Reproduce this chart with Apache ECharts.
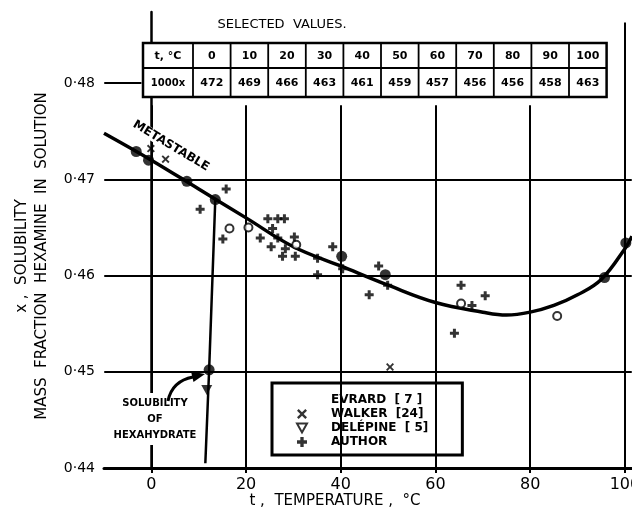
<!DOCTYPE html>
<html><head><meta charset="utf-8">
<script src="https://cdn.jsdelivr.net/npm/echarts@6/dist/echarts.min.js"></script>
<style>html,body{margin:0;padding:0;background:#fff}#c{width:632px;height:512px}</style>
</head><body><div id="c"></div>
<script>
// ---- data ----
const tableTemps = [0, 10, 20, 30, 40, 50, 60, 70, 80, 90, 100];
const tableValues = [472, 469, 466, 463, 461, 459, 457, 456, 456, 458, 463];

const curveT = [-10, 0, 10, 20, 30, 40, 50, 60, 70, 75, 80, 85, 90, 95, 100, 101.5];
const curveX = [0.4748, 0.472, 0.469, 0.466, 0.463, 0.461, 0.459, 0.4572, 0.4562, 0.4559, 0.4562, 0.4569, 0.458, 0.4596, 0.4628, 0.4641];

const hexaT = [13.5, 12.2, 11.4];
const hexaX = [0.4679, 0.4502, 0.4405];

const dotT = [-3.2, -0.6, 7.5, 13.5, 12.2, 40.2, 49.4, 95.7, 100.2];
const dotX = [0.4729, 0.4720, 0.4698, 0.4679, 0.4502, 0.4620, 0.4601, 0.4598, 0.4634];

const evrardT = [16.5, 20.5, 30.6, 65.4, 85.7];
const evrardX = [0.4649, 0.4650, 0.4632, 0.4571, 0.4558];

const walkerT = [-0.1, 3.0, 50.4];
const walkerX = [0.4732, 0.4721, 0.4505];

const delepineT = [11.7];
const delepineX = [0.4481];

const authorT = [10.3, 15.8, 15.1, 24.6, 26.7, 28.1, 25.6, 23.0, 26.7, 25.3, 28.3, 30.2, 27.7, 30.4, 35.1, 35.1, 38.3, 40.4, 48.0, 49.9, 46.0, 65.4, 67.7, 70.5, 64.0];
const authorX = [0.4669, 0.4690, 0.4638, 0.4659, 0.4659, 0.4659, 0.4649, 0.4639, 0.4639, 0.4630, 0.4628, 0.4640, 0.4620, 0.4620, 0.4618, 0.4601, 0.4630, 0.4607, 0.4610, 0.4590, 0.4580, 0.4590, 0.4569, 0.4579, 0.4540];

const xTickLabels = [0, 20, 40, 60, 80, 100];
const yTickLabels = [0.44, 0.45, 0.46, 0.47, 0.48];
const hGridValues = [0.45, 0.46, 0.47];

const legendNames = ['EVRARD  [ 7 ]', 'WALKER  [24]', 'DELÉPINE  [ 5]', 'AUTHOR'];

// ---- helpers ----
const zip = (a, b) => a.map((v, i) => [v, b[i]]);
const FONT = '"DejaVu Sans", "Liberation Sans", sans-serif';
const X_MIN = -10, X_MAX = 101.5, Y_MIN = 0.44, Y_MAX = 0.4874;

const CROSS = 'path://M1.5,0L4.5,3L7.5,0L9,1.5L6,4.5L9,7.5L7.5,9L4.5,6L1.5,9L0,7.5L3,4.5L0,1.5Z';
const PLUS = 'path://M3,0H6V3H9V6H6V9H3V6H0V3H3Z';
const DOWN_TRI = 'path://M0,0L10,0L5,9Z';

// gridlines as marker lines
const gridLines = [];
xTickLabels.forEach(t => {
  gridLines.push([{ coord: [t, Y_MIN] }, { coord: [t, t === 100 ? 0.4863 : 0.4777] }]);
});
hGridValues.forEach(v => {
  gridLines.push([{ coord: [X_MIN + 0.05, v] }, { coord: [X_MAX - 0.05, v] }]);
});
gridLines.push([{ coord: [X_MIN + 0.05, 0.48] }, { coord: [-2.1, 0.48] }]);

// table graphic
const tb = { left: 143, top: 43, mid: 68, bottom: 97, labelW: 50, cellW: 37.6 };
const tableW = tb.labelW + tableTemps.length * tb.cellW;
const TZ = 100;
const tableEls = [
  { type: 'rect', z: TZ, shape: { x: tb.left, y: tb.top, width: tableW, height: tb.bottom - tb.top },
    style: { fill: '#fff', stroke: '#000', lineWidth: 2.5 } },
  { type: 'line', z: TZ, shape: { x1: tb.left, y1: tb.mid, x2: tb.left + tableW, y2: tb.mid },
    style: { stroke: '#000', lineWidth: 1.8 } }
];
for (let i = 0; i < tableTemps.length; i++) {
  const x0 = tb.left + tb.labelW + i * tb.cellW;
  tableEls.push({ type: 'line', z: TZ, shape: { x1: x0, y1: tb.top, x2: x0, y2: tb.bottom },
    style: { stroke: '#000', lineWidth: 1.8 } });
  tableEls.push({ type: 'text', z: TZ + 1, style: { text: String(tableTemps[i]), x: x0 + tb.cellW / 2, y: (tb.top + tb.mid) / 2 + 1,
    align: 'center', verticalAlign: 'middle', font: 'bold 11px ' + FONT, fill: '#000' } });
  tableEls.push({ type: 'text', z: TZ + 1, style: { text: String(tableValues[i]), x: x0 + tb.cellW / 2, y: (tb.mid + tb.bottom) / 2 + 1,
    align: 'center', verticalAlign: 'middle', font: 'bold 11px ' + FONT, fill: '#000' } });
}
tableEls.push({ type: 'text', z: TZ + 1, style: { text: 't, °C', x: tb.left + tb.labelW / 2, y: (tb.top + tb.mid) / 2 + 1,
  align: 'center', verticalAlign: 'middle', font: 'bold 11px ' + FONT, fill: '#000' } });
tableEls.push({ type: 'text', z: TZ + 1, style: { text: '1000x', x: tb.left + tb.labelW / 2, y: (tb.mid + tb.bottom) / 2 + 1,
  align: 'center', verticalAlign: 'middle', font: 'bold 10px ' + FONT, fill: '#000' } });

const chart = echarts.init(document.getElementById('c'), null, { renderer: 'canvas' });
chart.setOption({
  animation: false,
  backgroundColor: '#fff',
  grid: { left: 104, right: 0, top: 12, bottom: 44, containLabel: false, outerBoundsMode: 'none' },
  xAxis: {
    type: 'value', min: X_MIN, max: X_MAX, interval: 10,
    axisLine: { show: true, lineStyle: { color: '#000', width: 3 } },
    axisTick: { show: true, customValues: xTickLabels, length: 5, lineStyle: { color: '#000', width: 2 } },
    splitLine: { show: false },
    axisLabel: {
      margin: 9, color: '#000', fontFamily: FONT, fontSize: 16,
      showMinLabel: true, showMaxLabel: true, hideOverlap: false,
      formatter: v => (xTickLabels.indexOf(Math.round(v)) >= 0 && Math.abs(v - Math.round(v)) < 1e-6) ? String(Math.round(v)) : ''
    }
  },
  yAxis: {
    type: 'value', min: Y_MIN, max: Y_MAX, interval: 0.01,
    axisLine: { show: true, lineStyle: { color: '#000', width: 2.5 } },
    axisTick: { show: true, length: 5, lineStyle: { color: '#000', width: 2 } },
    splitLine: { show: false },
    axisLabel: {
      margin: 9, color: '#000', fontFamily: FONT, fontSize: 14,
      showMaxLabel: false,
      formatter: v => {
        const k = Math.round(v * 100);
        return (Math.abs(v * 100 - k) < 1e-6 && k <= 48) ? '0·' + k : '';
      }
    }
  },
  legend: {
    orient: 'vertical', left: 272, top: 383,
    itemWidth: 10, itemHeight: 10, itemGap: 2,
    padding: [11, 34, 7, 24],
    borderColor: '#000', borderWidth: 3, backgroundColor: '#fff',
    selectedMode: false,
    textStyle: { color: '#000', fontFamily: FONT, fontWeight: 'bold', fontSize: 12, padding: [0, 0, 0, 19] },
    data: [
      { name: legendNames[0], icon: 'emptyCircle', itemStyle: { color: '#fff', borderColor: '#000', borderWidth: 2.5 } },
      { name: legendNames[1], icon: CROSS },
      { name: legendNames[2], icon: DOWN_TRI, itemStyle: { color: '#fff', borderColor: '#000', borderWidth: 2 } },
      { name: legendNames[3], icon: PLUS }
    ]
  },
  series: [
    {
      name: 'grid', type: 'line', data: [[X_MIN, Y_MIN]], symbol: 'none', lineStyle: { width: 0 }, z: 1,
      silent: true,
      markLine: { silent: true, symbol: 'none', label: { show: false },
        lineStyle: { color: '#000', width: 2, type: 'solid' }, data: gridLines }
    },
    {
      name: 'curve', type: 'line', data: zip(curveT, curveX), smooth: 0.4, symbol: 'none',
      lineStyle: { color: '#000', width: 3.5 }, z: 3, clip: true
    },
    {
      name: 'hexahydrate', type: 'line', data: zip(hexaT, hexaX), smooth: false, symbol: 'none',
      lineStyle: { color: '#000', width: 2.5 }, z: 3
    },
    {
      name: 'dots', type: 'scatter', data: zip(dotT, dotX), symbol: 'circle', symbolSize: 11,
      itemStyle: { color: '#000' }, z: 4
    },
    {
      name: legendNames[0], type: 'scatter', data: zip(evrardT, evrardX), symbol: 'emptyCircle', symbolSize: 8,
      itemStyle: { color: '#000', borderColor: '#000', borderWidth: 2.5 }, z: 5
    },
    {
      name: legendNames[1], type: 'scatter', data: zip(walkerT, walkerX), symbol: CROSS, symbolSize: 8,
      itemStyle: { color: '#000' }, z: 5
    },
    {
      name: legendNames[2], type: 'scatter', data: zip(delepineT, delepineX), symbol: DOWN_TRI, symbolSize: [11, 10],
      itemStyle: { color: '#000' }, z: 5
    },
    {
      name: legendNames[3], type: 'scatter', data: zip(authorT, authorX), symbol: PLUS, symbolSize: 9,
      itemStyle: { color: '#000' }, z: 5
    }
  ],
  graphic: { elements: [
    { type: 'group', z: TZ, children: tableEls },
    { type: 'text', z: 100, style: { text: 'SELECTED  VALUES.', x: 282, y: 25, align: 'center', verticalAlign: 'middle',
      font: '13px ' + FONT, fill: '#000' } },
    { type: 'text', z: 100, x: 32, y: 256, rotation: Math.PI / 2,
      style: { text: 'x ,  SOLUBILITY\nMASS  FRACTION  HEXAMINE  IN  SOLUTION', x: 0, y: 0, align: 'center', verticalAlign: 'middle',
        font: '15px ' + FONT, lineHeight: 20, fill: '#000' } },
    { type: 'text', z: 100, style: { text: 't ,  TEMPERATURE ,  °C', x: 335, y: 501, align: 'center', verticalAlign: 'middle',
      font: '15px ' + FONT, fill: '#000' } },
    { type: 'text', z: 100, x: 171, y: 146, rotation: -0.54,
      style: { text: 'METASTABLE', x: 0, y: 0, align: 'center', verticalAlign: 'middle',
        font: 'bold 12px ' + FONT, fill: '#000', backgroundColor: '#fff', padding: [0, 2] } },
    { type: 'text', z: 100, style: { text: 'SOLUBILITY\nOF\nHEXAHYDRATE', x: 155, y: 419, align: 'center', verticalAlign: 'middle',
      font: 'bold 10px ' + FONT, lineHeight: 16, fill: '#000', backgroundColor: '#fff', padding: [2, 2] } },
    { type: 'bezierCurve', z: 100, shape: { x1: 168, y1: 401, cpx1: 172, cpy1: 381, x2: 193, y2: 377 },
      style: { fill: null, stroke: '#000', lineWidth: 3 } },
    { type: 'polygon', z: 100, shape: { points: [[205, 374], [191, 371.5], [193.5, 382]] },
      style: { fill: '#000' } }
  ] }
});
</script></body></html>
